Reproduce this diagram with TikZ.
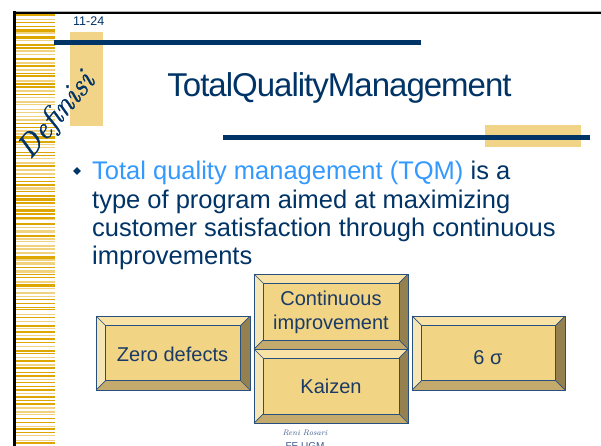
\documentclass[tikz,border=0pt]{standalone}
\usepackage{fontspec}
\usetikzlibrary{shapes.geometric}
\newfontfamily\arial{Liberation Sans}
\newfontfamily\arialT[LetterSpace=-3.0]{Liberation Sans}
\newfontfamily\defont[ItalicFeatures={FakeBold=1.2}]{Latin Modern Roman}
\definecolor{navy}{HTML}{003366}
\definecolor{lblue}{HTML}{3399FF}
\definecolor{bnavy}{HTML}{1B3A66}
\definecolor{gdark}{HTML}{DDA600}
\definecolor{glight}{HTML}{F0D27F}
\definecolor{gold}{HTML}{F2D488}
\definecolor{btop}{HTML}{F8E2A6}
\definecolor{bleft}{HTML}{F7E6B5}
\definecolor{bface}{HTML}{F1D484}
\definecolor{bbot}{HTML}{C4AA6C}
\definecolor{bright}{HTML}{958050}
\definecolor{bline}{HTML}{27507F}
\definecolor{sig}{HTML}{3A5A8A}
\newcommand\bevelbox[5]{%
  \fill[btop] (#1,#2) -- (#3,#2) -- ({#3-#5},{#2+#5}) -- ({#1+#5},{#2+#5}) -- cycle;
  \fill[bleft] (#1,#2) -- ({#1+#5},{#2+#5}) -- ({#1+#5},{#4-#5}) -- (#1,#4) -- cycle;
  \fill[bright] (#3,#2) -- (#3,#4) -- ({#3-#5},{#4-#5}) -- ({#3-#5},{#2+#5}) -- cycle;
  \fill[bbot] (#1,#4) -- (#3,#4) -- ({#3-#5},{#4-#5}) -- ({#1+#5},{#4-#5}) -- cycle;
  \fill[bface] ({#1+#5},{#2+#5}) rectangle ({#3-#5},{#4-#5});
  \draw[bevedge] (#1,#2) rectangle (#3,#4);
  \draw[bevedge] ({#1+#5},{#2+#5}) rectangle ({#3-#5},{#4-#5});
  \draw[bevedge] (#1,#2) -- ({#1+#5},{#2+#5});
  \draw[bevedge] (#3,#2) -- ({#3-#5},{#2+#5});
  \draw[bevedge] (#1,#4) -- ({#1+#5},{#4-#5});
  \draw[bevedge] (#3,#4) -- ({#3-#5},{#4-#5});
}
\tikzset{
  bevedge/.style={draw=bline, line width=0.7pt},
  boxtext/.style={font=\arial\fontsize{20}{24}\selectfont, text=bnavy, inner sep=0pt, align=center},
  bodytext/.style={anchor=base west, inner sep=0pt, font=\arial\fontsize{25.5}{28}\selectfont, text=navy},
  rule/.style={draw=navy, line width=5pt},
}
\begin{document}
\begin{tikzpicture}[x=1pt,y=-1pt]
\useasboundingbox (0,0) rectangle (601,446);
\clip (0,0) rectangle (601,446);
\fill[white] (0,0) rectangle (601,446);
% stripes
\pgfmathsetseed{12}
\foreach \i in {0,...,120}{
  \pgfmathsetmacro\yy{14+\i*3.6+rnd*1.2}
  \pgfmathsetmacro\hh{0.8+rnd*1.6}
  \pgfmathsetmacro\cc{rnd}
  \ifdim\cc pt<0.6pt \def\col{gdark}\else\def\col{glight}\fi
  \fill[\col] (16,\yy) rectangle (55,{\yy+\hh});
}
% frame
\draw[gray!60, line width=1pt] (13,11.2) -- (601,11.2);
\draw[black, line width=2pt] (13,12.8) -- (601,12.8);
\draw[black, line width=2.4pt] (14.5,11.5) -- (14.5,446);
% gold blocks
\fill[gold] (70,32) rectangle (103,126);
\fill[gold] (485,125) rectangle (581,147);
% rules
\coordinate (r1a) at (54,42.5);
\coordinate (r1b) at (421,42.5);
\coordinate (r2a) at (223,138);
\coordinate (r2b) at (590,138);
\draw[rule, line width=4.5pt] (r1a) -- (r1b);
\draw[rule] (r2a) -- (r2b);
% labels
\node[anchor=base west, inner sep=0pt, font=\arial\fontsize{12.5}{14}\selectfont, text=navy] (num) at (73,26) {11-24};
\node[rotate=50, anchor=base, inner sep=0pt, font=\defont\itshape\fontsize{31}{32}\selectfont, text=navy] (def) at (63,121) {Def{}inisi};
\node[anchor=base, inner sep=0pt, font=\arialT\fontsize{33}{40}\selectfont, text=navy] (title) at (339.5,96.7) {TotalQualityManagement};
% bullet
\node[diamond, fill=navy, minimum size=8pt, inner sep=0pt] (bul) at (77,171) {};
\node[bodytext] (l1) at (92,180) {\textcolor{lblue}{Total quality management (TQM)} is a};
\node[bodytext] (l2) at (92,208) {type of program aimed at maximizing};
\node[bodytext] (l3) at (92,236) {customer satisfaction through continuous};
\node[bodytext] (l4) at (92,264) {improvements};
% boxes
\bevelbox{96}{316}{250}{390}{9.5}
\bevelbox{254}{274}{408}{349}{9}
\bevelbox{254}{349}{408}{423}{9}
\bevelbox{412}{316}{565}{390}{9.5}
\node[boxtext, anchor=base] (zero) at (172.5,361.7) {Zero defects};
\node[boxtext] (cont) at (331,312.8) {Continuous\\improvement};
\node[boxtext, anchor=base] (kaizen) at (331,393) {Kaizen};
\node[boxtext, anchor=base] (six) at (488,364) {6 σ};
% signature
\node[anchor=base, inner sep=0pt, font=\fontsize{8}{9}\selectfont\itshape, text=sig] (sign) at (305,435) {Reni Rosari};
\node[anchor=base, inner sep=0pt, font=\arial\fontsize{10}{12}\selectfont, text=sig] (fe) at (305,449) {FE UGM};
\end{tikzpicture}
\end{document}
